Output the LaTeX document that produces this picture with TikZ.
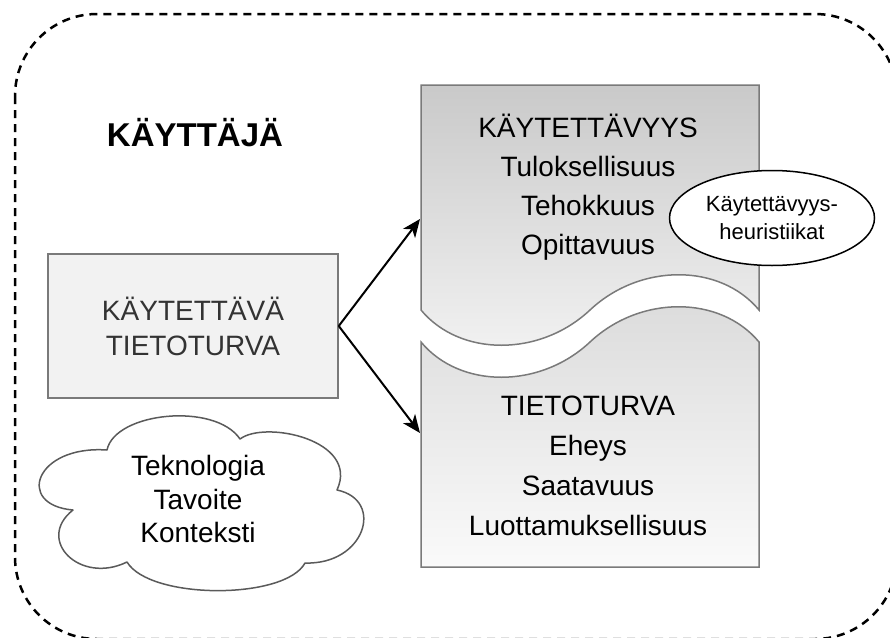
\documentclass[tikz,border=0pt]{standalone}
\usepackage{fontspec}
\setmainfont{Liberation Sans}
\usetikzlibrary{shapes.geometric, arrows.meta, positioning}
\definecolor{edgegray}{HTML}{7A7A7A}
\definecolor{cloudgray}{HTML}{5A5A5A}
\definecolor{lightfill}{HTML}{F2F2F2}
\definecolor{textgray}{HTML}{333333}
\tikzstyle{block} = [draw=edgegray, fill=lightfill, rectangle, line width=1.5pt]
\tikzstyle{tape} = [draw=edgegray, line width=1.5pt]
\tikzstyle{bigtext} = [align=center]
\newcommand{\fs}[2]{\fontsize{#1}{#2}\selectfont}

\begin{document}
\begin{tikzpicture}[x=1pt, y=-1pt, >={Stealth[length=18pt,width=15pt,inset=5pt]}]
    \useasboundingbox (0,0) rectangle (890,637);
    \draw [line width=2.5pt, dash pattern=on 8pt off 6pt, rounded corners=82pt] (15,14) rectangle (897,639);
    \node [font=\fs{33}{40}\bfseries] (user) at (195,133) {KÄYTTÄJÄ};
    % tape shapes
    \draw [tape, top color=black!21, bottom color=black!5] (421,85) -- (759,85) -- (759,310)
        .. controls (720,263) and (640,263) .. (590,310)
        .. controls (540,357) and (460,357) .. (421,310) -- cycle;
    \draw [tape, top color=black!14, bottom color=black!2] (421,342)
        .. controls (460,389) and (540,389) .. (590,342)
        .. controls (640,295) and (720,295) .. (759,342) -- (759,567) -- (421,567) -- cycle;
    \node [bigtext, font=\fs{28}{39}] (usab) at (588,187) {KÄYTETTÄVYYS\\Tuloksellisuus\\Tehokkuus\\Opittavuus};
    \node [bigtext, font=\fs{28}{40}] (sec) at (588,466) {TIETOTURVA\\Eheys\\Saatavuus\\Luottamuksellisuus};
    \node [draw, fill=white, shape=ellipse, line width=1.5pt, minimum width=205pt, minimum height=95pt,
        inner sep=0pt, align=center, font=\fs{22}{28}] (heur) at (772,218) {Käytettävyys-\\heuristiikat};
    \node [block, minimum width=290pt, minimum height=144pt, align=center, text=textgray,
        font=\fs{28}{35}] (usec) at (193,326) {KÄYTETTÄVÄ\\TIETOTURVA};
    % cloud
    \draw [draw=cloudgray, fill=white, line width=1.5pt, line join=round] (107,450)
        .. controls (115,412) and (215,402) .. (240,439)
        .. controls (265,420) and (360,440) .. (337,490)
        .. controls (385,500) and (365,565) .. (305,563)
        .. controls (285,600) and (150,600) .. (127,562)
        .. controls (80,585) and (35,540) .. (73,510)
        .. controls (15,505) and (35,445) .. cycle;
    \node [bigtext, font=\fs{28}{33.5}] (ctx) at (198,499) {Teknologia\\Tavoite\\Konteksti};
    \coordinate (usabin) at (420,219);
    \coordinate (secin) at (420,433);
    \draw [->, line width=2pt] (usec.east) -- (usabin);
    \draw [->, line width=2pt] (usec.east) -- (secin);
\end{tikzpicture}
\end{document}
